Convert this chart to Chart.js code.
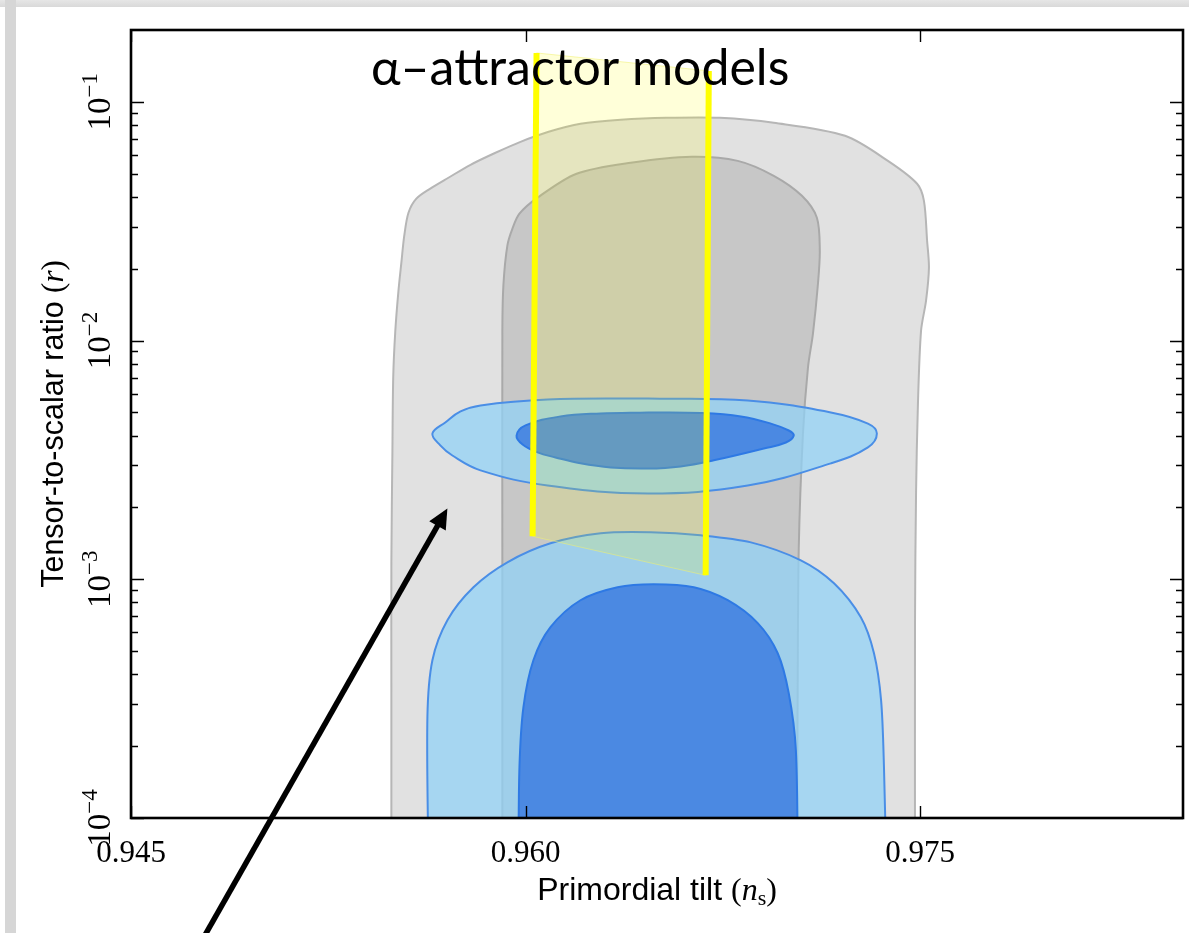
<!DOCTYPE html>
<html>
<head>
<meta charset="utf-8">
<script src="https://cdn.jsdelivr.net/npm/chart.js@4.4.1/dist/chart.umd.min.js"></script>
<style>
  html, body { margin: 0; padding: 0; background: #ffffff; width: 1189px; height: 933px; overflow: hidden; }
  #edgeTop { position: absolute; left: 0; top: 0; width: 1189px; height: 7px; background: linear-gradient(#e6e6e6, #d9d9d9); }
  #edgeLeft { position: absolute; left: 5px; top: 0; width: 11px; height: 933px; background: #d6d6d6; }
  #wrap { position: absolute; left: 0; top: 0; width: 1189px; height: 933px; }
</style>
</head>
<body>
<div id="edgeTop"></div>
<div id="edgeLeft"></div>
<div id="wrap"><canvas id="chart" width="1189" height="933"></canvas></div>
<script>
// Axis ticks
const nsTicks = [0.945, 0.960, 0.975];
const rDecades = [1e-4, 1e-3, 1e-2, 1e-1];
const nsRange = [0.945, 0.985];
const rRange = [1e-4, 0.2];

// Planck constraints, 95% region (grey)
const grey95Ns = [0.95490, 0.95490, 0.95490, 0.95494, 0.95497, 0.95505, 0.95517, 0.95528, 0.95539, 0.95555,
                  0.95585, 0.95638, 0.95707, 0.95791, 0.95886, 0.95981, 0.96088, 0.96209, 0.96362, 0.96537,
                  0.96739, 0.96944, 0.97215, 0.97378, 0.97489, 0.97515, 0.97527, 0.97534, 0.97523, 0.97504,
                  0.97492, 0.97485, 0.97481, 0.97481];
const grey95R  = [0.0001, 0.000312, 0.00119, 0.00347, 0.0070, 0.0110, 0.0162, 0.0212, 0.0275, 0.0343,
                  0.0393, 0.0433, 0.0481, 0.0545, 0.0612, 0.0680, 0.0749, 0.0809, 0.0841, 0.0857,
                  0.0857, 0.0817, 0.0721, 0.0566, 0.0454, 0.0385, 0.0262, 0.0202, 0.0147, 0.0110,
                  0.00535, 0.00231, 0.000655, 0.0001];
// Planck constraints, 68% region (grey)
const grey68Ns = [0.95912, 0.95912, 0.95912, 0.95916, 0.95931, 0.95950, 0.95977, 0.96046, 0.96194, 0.96400,
                  0.96632, 0.96807, 0.96944, 0.97051, 0.97108, 0.97119, 0.97112, 0.97093, 0.97074, 0.97055,
                  0.97039, 0.97035, 0.97032];
const grey68R  = [0.0001, 0.00119, 0.0110, 0.0171, 0.0250, 0.0294, 0.0340, 0.0397, 0.0500, 0.0556,
                  0.0589, 0.0566, 0.0490, 0.0404, 0.0327, 0.0238, 0.0173, 0.0107, 0.00771, 0.00408,
                  0.00135, 0.000367, 0.0001];

// Forecast, fiducial r = 0: 95% and 68% (blue)
const lowBlue95Ns = [0.95631, 0.95627, 0.95646, 0.95703, 0.95802, 0.95931, 0.96095, 0.96286, 0.96476, 0.96666,
                     0.96857, 0.97047, 0.97173, 0.97275, 0.97325, 0.97352, 0.97363, 0.97371];
const lowBlue95R  = [0.0001, 0.000265, 0.000458, 0.000674, 0.000926, 0.001178, 0.001415, 0.001558, 0.001573, 0.001528,
                     0.001428, 0.001201, 0.000962, 0.000693, 0.000490, 0.000312, 0.0001634, 0.0001];
const lowBlue68Ns = [0.95973, 0.95977, 0.95992, 0.96030, 0.96095, 0.96209, 0.96350, 0.96487, 0.96640, 0.96769,
                     0.96883, 0.96959, 0.97001, 0.97028, 0.97035];
const lowBlue68R  = [0.0001, 0.0001634, 0.000291, 0.000458, 0.000630, 0.000817, 0.000926, 0.000953, 0.000926, 0.000817,
                     0.000655, 0.000490, 0.000333, 0.0001925, 0.0001];

// Forecast, fiducial r = 4e-3: 95% and 68% (blue)
const midBlue95Ns = [0.96465, 0.96845, 0.97161, 0.97302, 0.97336, 0.97302, 0.97161, 0.96845, 0.96465, 0.96084,
                     0.95829, 0.95722, 0.95676, 0.95646, 0.95695, 0.95753, 0.95829, 0.96084];
const midBlue95R  = [0.00572, 0.00561, 0.00500, 0.00449, 0.00408, 0.00357, 0.00306, 0.00247, 0.00229, 0.00247,
                     0.00286, 0.00330, 0.00364, 0.00408, 0.00454, 0.00505, 0.00535, 0.00566];
const midBlue68Ns = [0.96465, 0.96666, 0.96819, 0.96933, 0.97001, 0.97020, 0.96990, 0.96906, 0.96716, 0.96590,
                     0.96465, 0.96324, 0.96209, 0.96114, 0.96046, 0.95989, 0.95966, 0.96000, 0.96133, 0.96286];
const midBlue68R  = [0.00500, 0.00497, 0.00481, 0.00449, 0.00420, 0.00400, 0.00374, 0.00353, 0.00315, 0.00297,
                     0.00291, 0.00294, 0.00306, 0.00324, 0.00340, 0.00367, 0.00400, 0.00441, 0.00481, 0.00495];

// alpha-attractor predictions (yellow band edges)
const bandLeftNs  = [0.96042, 0.96027];
const bandLeftR   = [0.1603, 0.001514];
const bandRightNs = [0.96697, 0.96685];
const bandRightR  = [0.1348, 0.001039];

// Pointer arrow (tail, head)
const arrowNs = [0.94782, 0.95703];
const arrowR  = [3.24e-5, 0.00198];

const titleText = 'α–attractor models';

function zip(ns, r) { return ns.map((v, i) => ({ x: v, y: r[i] })); }
// contour closed along the lower edge of the plot (extended below the floor so the join is clipped)
function openAtFloor(ns, r) {
  const pts = zip(ns, r);
  const n = pts.length;
  const a = pts[0].x, b = pts[n - 1].x;
  pts[0].y = rRange[0] / 1.6;
  pts[n - 1].y = rRange[0] / 1.6;
  pts.push({ x: b, y: rRange[0] / 3 }, { x: a, y: rRange[0] / 3 }, { x: a, y: rRange[0] / 1.6 });
  return pts;
}
function loop(ns, r) { const pts = zip(ns, r); pts.push({ ...pts[0] }); return pts; }

function area(data, fillColor, lineColor, order, width, tension) {
  return {
    data, order, fill: 'shape', showLine: true, tension: tension === undefined ? 0.3 : tension,
    backgroundColor: fillColor, borderColor: lineColor, borderWidth: width || 2,
    pointRadius: 0, pointHoverRadius: 0
  };
}
function edge(ns, r, order) {
  return {
    data: zip(ns, r), order, fill: false, showLine: true, tension: 0,
    borderColor: '#ffff00', borderWidth: 6, borderCapStyle: 'butt',
    pointRadius: 0, pointHoverRadius: 0
  };
}

const bandPoly = loop([bandLeftNs[0], bandRightNs[0], bandRightNs[1], bandLeftNs[1]],
                      [bandLeftR[0], bandRightR[0], bandRightR[1], bandLeftR[1]]);

const datasets = [
  area(openAtFloor(grey95Ns, grey95R), '#e1e1e1', '#b6b6b6', 9),
  area(openAtFloor(grey68Ns, grey68R), '#c7c7c7', '#a9a9a9', 8),
  area(openAtFloor(lowBlue95Ns, lowBlue95R), 'rgba(145,210,245,0.75)', '#4a8ee6', 7),
  area(openAtFloor(lowBlue68Ns, lowBlue68R), 'rgba(60,125,225,0.85)', '#2e79e4', 6),
  area(loop(midBlue95Ns, midBlue95R), 'rgba(145,210,245,0.75)', '#4a8ee6', 5, 2, 0.4),
  area(loop(midBlue68Ns, midBlue68R), 'rgba(60,125,225,0.85)', '#2e79e4', 4, 2, 0.4),
  area(bandPoly, 'rgba(255,255,0,0.15)', 'rgba(240,240,110,0.55)', 3, 1, 0),
  edge(bandLeftNs, bandLeftR, 2),
  edge(bandRightNs, bandRightR, 1)
];

function drawParts(ctx, parts, x, y) {
  let cx = x;
  for (const p of parts) {
    ctx.font = p.font;
    ctx.fillText(p.text, cx, y + (p.dy || 0));
    cx += ctx.measureText(p.text).width;
  }
}
function partsWidth(ctx, parts) {
  let w = 0;
  for (const p of parts) { ctx.font = p.font; w += ctx.measureText(p.text).width; }
  return w;
}

const SERIF = '"Liberation Serif", "DejaVu Serif", serif';
const SANS = '"Liberation Sans", "DejaVu Sans", sans-serif';

const decorations = {
  id: 'decorations',
  afterDatasetsDraw(chart) {
    const { ctx, chartArea: ca, scales } = chart;
    const xs = scales.x, ys = scales.y;
    ctx.save();
    ctx.fillStyle = '#000';
    ctx.strokeStyle = '#000';

    // inward ticks
    ctx.lineWidth = 1.4;
    ctx.beginPath();
    for (const d of rDecades) {
      for (let m = 1; m <= 9; m++) {
        const v = d * m;
        if (v < rRange[0] || v >= rRange[1]) continue;
        const py = Math.round(ys.getPixelForValue(v)) + 0.5;
        const len = m === 1 ? 13 : 7;
        ctx.moveTo(ca.left, py); ctx.lineTo(ca.left + len, py);
        ctx.moveTo(ca.right, py); ctx.lineTo(ca.right - len, py);
      }
    }
    for (const v of nsTicks) {
      const px = Math.round(xs.getPixelForValue(v)) + 0.5;
      ctx.moveTo(px, ca.bottom); ctx.lineTo(px, ca.bottom - 12);
      ctx.moveTo(px, ca.top); ctx.lineTo(px, ca.top + 12);
    }
    ctx.stroke();

    // frame
    ctx.lineWidth = 2.6;
    ctx.strokeRect(ca.left, ca.top, ca.right - ca.left, ca.bottom - ca.top);

    // x tick labels
    ctx.textBaseline = 'alphabetic';
    ctx.textAlign = 'center';
    ctx.font = '31px ' + SERIF;
    for (const v of nsTicks) {
      ctx.fillText(v.toFixed(3), xs.getPixelForValue(v), 862);
    }

    // y tick labels, rotated, 10^n
    ctx.textAlign = 'left';
    for (const d of rDecades) {
      const e = Math.round(Math.log10(d));
      const parts = [
        { text: '10', font: '33px ' + SERIF },
        { text: '\u2212' + Math.abs(e), font: '23px ' + SERIF, dy: -13 }
      ];
      const w = partsWidth(ctx, parts);
      ctx.save();
      ctx.translate(110, ys.getPixelForValue(d));
      ctx.rotate(-Math.PI / 2);
      drawParts(ctx, parts, -w / 2, 0);
      ctx.restore();
    }

    // x axis title
    const xt = [
      { text: 'Primordial tilt ', font: '32px ' + SANS },
      { text: '(', font: '32px ' + SERIF },
      { text: 'n', font: 'italic 32px ' + SERIF },
      { text: 's', font: '22px ' + SERIF, dy: 5 },
      { text: ')', font: '32px ' + SERIF }
    ];
    const xw = partsWidth(ctx, xt);
    drawParts(ctx, xt, (ca.left + ca.right) / 2 - xw / 2, 900);

    // y axis title
    const yt = [
      { text: 'Tensor-to-scalar ratio ', font: '30.5px ' + SANS },
      { text: '(', font: '31px ' + SERIF },
      { text: 'r', font: 'italic 31px ' + SERIF },
      { text: ')', font: '31px ' + SERIF }
    ];
    const yw = partsWidth(ctx, yt);
    ctx.save();
    ctx.translate(63, (ca.top + ca.bottom) / 2);
    ctx.rotate(-Math.PI / 2);
    drawParts(ctx, yt, -yw / 2, 0);
    ctx.restore();

    // panel caption
    ctx.font = '100px Lato, "Open Sans", sans-serif';
    const tw = ctx.measureText(titleText).width;
    const size = 100 * 418 / tw;
    ctx.font = size.toFixed(1) + 'px Lato, "Open Sans", sans-serif';
    ctx.fillText(titleText, 371, 85);
    ctx.restore();
  },
  afterDraw(chart) {
    const { ctx, scales } = chart;
    const x0 = scales.x.getPixelForValue(arrowNs[0]), y0 = scales.y.getPixelForValue(arrowR[0]);
    const x1 = scales.x.getPixelForValue(arrowNs[1]), y1 = scales.y.getPixelForValue(arrowR[1]);
    const ang = Math.atan2(y1 - y0, x1 - x0);
    const head = 20, half = 9.5;
    ctx.save();
    ctx.strokeStyle = '#000';
    ctx.fillStyle = '#000';
    ctx.lineWidth = 5.5;
    ctx.beginPath();
    ctx.moveTo(x0, y0);
    ctx.lineTo(x1 - Math.cos(ang) * head * 0.8, y1 - Math.sin(ang) * head * 0.8);
    ctx.stroke();
    ctx.beginPath();
    ctx.moveTo(x1, y1);
    ctx.lineTo(x1 - Math.cos(ang) * head + Math.sin(ang) * half, y1 - Math.sin(ang) * head - Math.cos(ang) * half);
    ctx.lineTo(x1 - Math.cos(ang) * head - Math.sin(ang) * half, y1 - Math.sin(ang) * head + Math.cos(ang) * half);
    ctx.closePath();
    ctx.fill();
    ctx.restore();
  }
};

new Chart(document.getElementById('chart'), {
  type: 'scatter',
  data: { datasets },
  options: {
    responsive: false,
    animation: false,
    devicePixelRatio: 1,
    layout: { padding: { left: 0, top: 30, right: 6, bottom: 0 } },
    plugins: { legend: { display: false }, tooltip: { enabled: false } },
    scales: {
      x: {
        type: 'linear', min: nsRange[0], max: nsRange[1],
        grid: { display: false }, border: { display: false },
        ticks: { display: false },
        afterFit(scale) { scale.height = 115; }
      },
      y: {
        type: 'logarithmic', min: rRange[0], max: rRange[1],
        grid: { display: false }, border: { display: false },
        ticks: { display: false },
        afterFit(scale) { scale.width = 131; }
      }
    }
  },
  plugins: [decorations]
});
</script>
</body>
</html>
